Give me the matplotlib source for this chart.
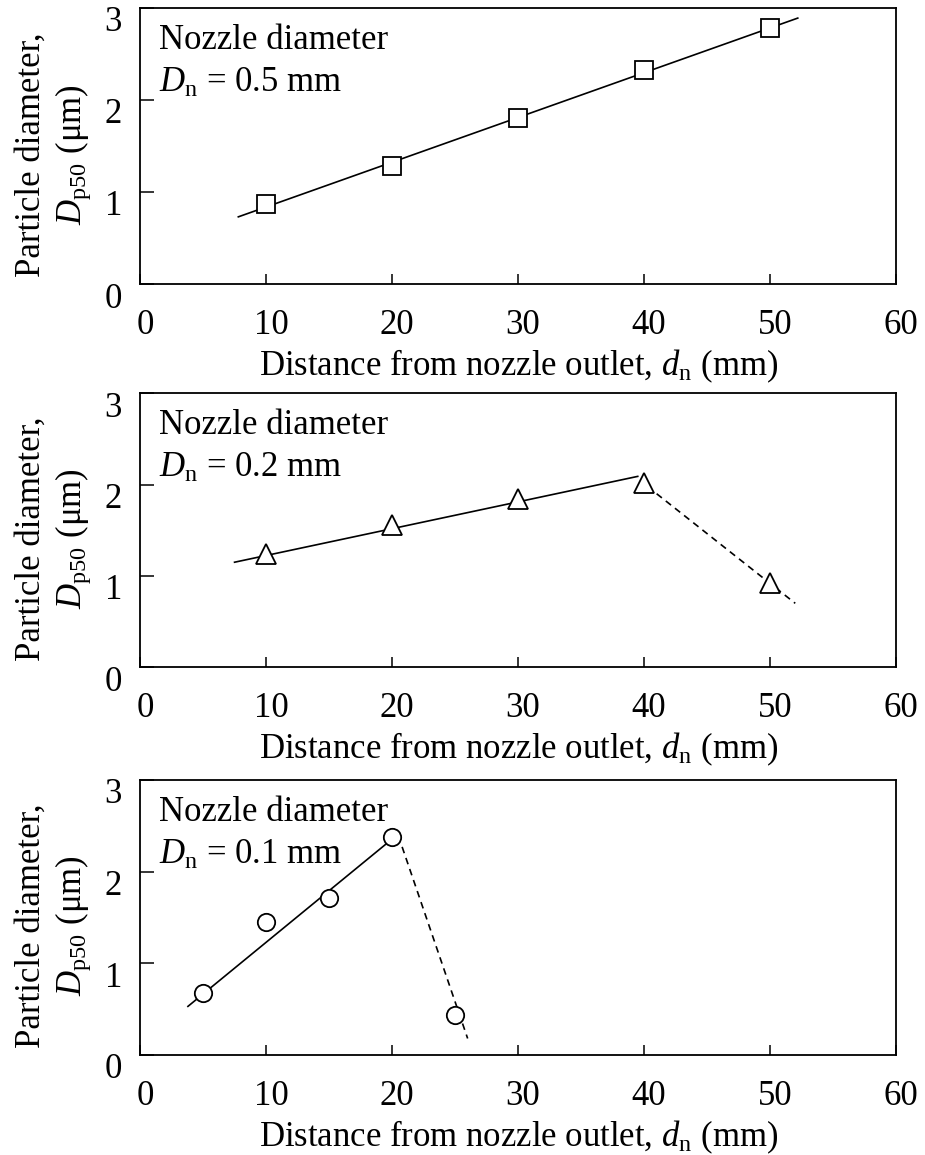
import matplotlib
matplotlib.use("Agg")
import matplotlib.pyplot as plt
import matplotlib.transforms as mtransforms

plt.rcParams["font.family"] = ["Liberation Serif", "DejaVu Serif"]
plt.rcParams["mathtext.fontset"] = "custom"
plt.rcParams["mathtext.rm"] = "Liberation Serif"
plt.rcParams["mathtext.it"] = "Liberation Serif:italic"

# measured D_p50 versus distance from the nozzle outlet
x_05 = [10, 20, 30, 40, 50]
y_05 = [0.87, 1.28, 1.80, 2.33, 2.78]
fit_05_x = [7.8, 52.2]
fit_05_y = [0.73, 2.89]

x_02 = [10, 20, 30, 40, 50]
y_02 = [1.24, 1.56, 1.84, 2.02, 0.92]
fit_02_x = [7.5, 39.5]
fit_02_y = [1.15, 2.09]
drop_02_x = [41.0, 52.0]
drop_02_y = [1.90, 0.70]

x_01 = [5, 10, 15, 20, 25]
y_01 = [0.68, 1.45, 1.71, 2.38, 0.44]
fit_01_x = [3.8, 19.6]
fit_01_y = [0.53, 2.31]
drop_01_x = [20.8, 26.0]
drop_01_y = [2.27, 0.18]

labels = ["0.5", "0.2", "0.1"]
markers = ["s", "^", "o"]
msizes = [12.5, 14, 12.5]

fig = plt.figure(figsize=(9.25, 11.55), dpi=100)
boxes = [
    [0.1514, 0.7541, 0.8173, 0.2390],
    [0.1514, 0.4223, 0.8173, 0.2372],
    [0.1514, 0.0866, 0.8173, 0.2381],
]

series = [
    (x_05, y_05, fit_05_x, fit_05_y, None, None),
    (x_02, y_02, fit_02_x, fit_02_y, drop_02_x, drop_02_y),
    (x_01, y_01, fit_01_x, fit_01_y, drop_01_x, drop_01_y),
]

FS = 25

for box, (xs, ys, fx, fy, dx, dy), lab, mk, ms in zip(boxes, series, labels, markers, msizes):
    ax = fig.add_axes(box)
    ax.plot(fx, fy, color="black", lw=1.2, zorder=2)
    if dx is not None:
        ax.plot(dx, dy, color="black", lw=1.2, ls=(0, (4, 3)), zorder=2)
    ax.plot(xs, ys, ls="none", marker=mk, ms=ms, mfc="white", mec="black",
            mew=1.3, zorder=3)

    ax.set_xlim(0, 60)
    ax.set_ylim(0, 3)
    ax.set_xticks([0, 10, 20, 30, 40, 50, 60])
    ax.set_yticks([0, 1, 2, 3])
    ax.tick_params(axis="both", direction="in", labelsize=FS, width=1.1)
    ax.tick_params(axis="y", length=10, pad=13)
    ax.tick_params(axis="x", length=7, pad=18)
    for sp in ax.spines.values():
        sp.set_linewidth(1.3)

    # shift tick labels slightly, as in the printed figure
    dn = mtransforms.ScaledTranslation(0, -11 / 100, fig.dpi_scale_trans)
    for t in ax.get_yticklabels():
        t.set_transform(t.get_transform() + dn)
    rt = mtransforms.ScaledTranslation(5 / 100, 0, fig.dpi_scale_trans)
    for t in ax.get_xticklabels():
        t.set_transform(t.get_transform() + rt)

    ax.set_xlabel(r"Distance from nozzle outlet, $d_{\mathrm{n}}$ (mm)",
                  fontsize=FS, labelpad=4)
    ax.set_ylabel("Particle diameter,\n" + r"$D_{\mathrm{p50}}$ ($\mathrm{\mu}$m)",
                  fontsize=FS, linespacing=1.2)
    ax.yaxis.set_label_coords(-0.062, 0.47)

    ax.text(0.025, 0.85, "Nozzle diameter", transform=ax.transAxes,
            fontsize=FS, va="baseline", ha="left")
    ax.text(0.025, 0.695, r"$D_{\mathrm{n}}$ = " + lab + " mm",
            transform=ax.transAxes, fontsize=FS, va="baseline", ha="left")

fig.savefig("out.png", dpi=100)
